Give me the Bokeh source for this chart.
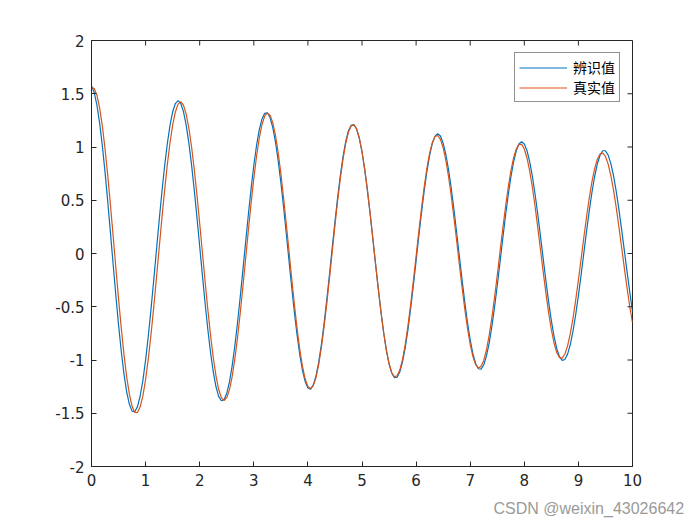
import math
from bokeh.plotting import figure
from bokeh.models import Range1d, FixedTicker, Title
from bokeh.embed import file_html
from bokeh.resources import INLINE

# ---- data ----
t = [0.00, 0.05, 0.10, 0.15, 0.20, 0.25, 0.30, 0.35, 0.40, 0.45,
     0.50, 0.55, 0.60, 0.65, 0.70, 0.75, 0.80, 0.85, 0.90, 0.95,
     1.00, 1.05, 1.10, 1.15, 1.20, 1.25, 1.30, 1.35, 1.40, 1.45,
     1.50, 1.55, 1.60, 1.65, 1.70, 1.75, 1.80, 1.85, 1.90, 1.95,
     2.00, 2.05, 2.10, 2.15, 2.20, 2.25, 2.30, 2.35, 2.40, 2.45,
     2.50, 2.55, 2.60, 2.65, 2.70, 2.75, 2.80, 2.85, 2.90, 2.95,
     3.00, 3.05, 3.10, 3.15, 3.20, 3.25, 3.30, 3.35, 3.40, 3.45,
     3.50, 3.55, 3.60, 3.65, 3.70, 3.75, 3.80, 3.85, 3.90, 3.95,
     4.00, 4.05, 4.10, 4.15, 4.20, 4.25, 4.30, 4.35, 4.40, 4.45,
     4.50, 4.55, 4.60, 4.65, 4.70, 4.75, 4.80, 4.85, 4.90, 4.95,
     5.00, 5.05, 5.10, 5.15, 5.20, 5.25, 5.30, 5.35, 5.40, 5.45,
     5.50, 5.55, 5.60, 5.65, 5.70, 5.75, 5.80, 5.85, 5.90, 5.95,
     6.00, 6.05, 6.10, 6.15, 6.20, 6.25, 6.30, 6.35, 6.40, 6.45,
     6.50, 6.55, 6.60, 6.65, 6.70, 6.75, 6.80, 6.85, 6.90, 6.95,
     7.00, 7.05, 7.10, 7.15, 7.20, 7.25, 7.30, 7.35, 7.40, 7.45,
     7.50, 7.55, 7.60, 7.65, 7.70, 7.75, 7.80, 7.85, 7.90, 7.95,
     8.00, 8.05, 8.10, 8.15, 8.20, 8.25, 8.30, 8.35, 8.40, 8.45,
     8.50, 8.55, 8.60, 8.65, 8.70, 8.75, 8.80, 8.85, 8.90, 8.95,
     9.00, 9.05, 9.10, 9.15, 9.20, 9.25, 9.30, 9.35, 9.40, 9.45,
     9.50, 9.55, 9.60, 9.65, 9.70, 9.75, 9.80, 9.85, 9.90, 9.95,
     10.00]

identified = [
    1.575, 1.512, 1.394, 1.225, 1.013, 0.764, 0.489, 0.196, -0.101, -0.394,
    -0.670, -0.918, -1.130, -1.299, -1.416, -1.480, -1.486, -1.438, -1.338, -1.191,
    -1.000, -0.775, -0.522, -0.251, 0.028, 0.306, 0.571, 0.814, 1.026, 1.200,
    1.329, 1.408, 1.435, 1.409, 1.332, 1.206, 1.036, 0.830, 0.593, 0.335,
    0.066, -0.205, -0.467, -0.711, -0.928, -1.109, -1.249, -1.341, -1.383, -1.373,
    -1.313, -1.206, -1.055, -0.866, -0.646, -0.404, -0.147, 0.113, 0.369, 0.609,
    0.826, 1.012, 1.158, 1.261, 1.316, 1.321, 1.277, 1.185, 1.049, 0.875,
    0.668, 0.437, 0.190, -0.064, -0.314, -0.550, -0.766, -0.951, -1.099, -1.204,
    -1.263, -1.273, -1.234, -1.149, -1.019, -0.852, -0.653, -0.429, -0.190, 0.056,
    0.298, 0.528, 0.735, 0.913, 1.054, 1.153, 1.203, 1.211, 1.169, 1.082,
    0.953, 0.787, 0.591, 0.373, 0.141, -0.096, -0.328, -0.546, -0.742, -0.908,
    -1.037, -1.124, -1.166, -1.162, -1.111, -1.016, -0.881, -0.712, -0.514, -0.297,
    -0.069, 0.162, 0.384, 0.591, 0.772, 0.922, 1.033, 1.102, 1.125, 1.103,
    1.036, 0.929, 0.785, 0.610, 0.410, 0.195, -0.027, -0.248, -0.457, -0.648,
    -0.811, -0.942, -1.033, -1.082, -1.086, -1.047, -0.964, -0.843, -0.687, -0.504,
    -0.300, -0.086, 0.132, 0.344, 0.540, 0.713, 0.856, 0.962, 1.028, 1.050,
    1.028, 0.965, 0.861, 0.723, 0.554, 0.364, 0.159, -0.051, -0.259, -0.454,
    -0.630, -0.778, -0.893, -0.969, -1.003, -0.995, -0.945, -0.855, -0.730, -0.575,
    -0.395, -0.200, 0.003, 0.205, 0.398, 0.573, 0.723, 0.841, 0.923, 0.965,
    0.965, 0.924, 0.844, 0.728, 0.581, 0.410, 0.222, 0.025, -0.172, -0.362,
    -0.545]

true_vals = [
    1.555, 1.550, 1.486, 1.367, 1.198, 0.984, 0.734, 0.457, 0.164, -0.134,
    -0.426, -0.700, -0.947, -1.157, -1.321, -1.435, -1.493, -1.493, -1.440, -1.336,
    -1.183, -0.989, -0.761, -0.506, -0.233, 0.046, 0.323, 0.586, 0.827, 1.035,
    1.205, 1.329, 1.403, 1.425, 1.393, 1.309, 1.176, 1.000, 0.786, 0.543,
    0.281, 0.009, -0.263, -0.524, -0.764, -0.974, -1.146, -1.275, -1.353, -1.380,
    -1.354, -1.278, -1.155, -0.989, -0.787, -0.556, -0.305, -0.043, 0.219, 0.471,
    0.705, 0.911, 1.080, 1.208, 1.289, 1.320, 1.299, 1.229, 1.111, 0.950,
    0.753, 0.526, 0.281, 0.025, -0.231, -0.477, -0.703, -0.900, -1.061, -1.179,
    -1.249, -1.270, -1.241, -1.164, -1.042, -0.880, -0.685, -0.464, -0.226, 0.019,
    0.263, 0.495, 0.707, 0.889, 1.036, 1.140, 1.198, 1.208, 1.170, 1.085,
    0.958, 0.793, 0.597, 0.378, 0.144, -0.094, -0.328, -0.547, -0.742, -0.908,
    -1.035, -1.120, -1.158, -1.148, -1.092, -0.992, -0.852, -0.677, -0.475, -0.255,
    -0.025, 0.205, 0.425, 0.627, 0.802, 0.942, 1.042, 1.098, 1.108, 1.072,
    0.993, 0.874, 0.721, 0.538, 0.334, 0.117, -0.104, -0.320, -0.522, -0.702,
    -0.853, -0.968, -1.043, -1.074, -1.061, -1.004, -0.906, -0.771, -0.604, -0.413,
    -0.205, 0.010, 0.224, 0.427, 0.612, 0.770, 0.894, 0.980, 1.024, 1.025,
    0.981, 0.897, 0.774, 0.620, 0.439, 0.241, 0.033, -0.175, -0.375, -0.558,
    -0.716, -0.841, -0.930, -0.977, -0.982, -0.944, -0.867, -0.753, -0.608, -0.437,
    -0.249, -0.050, 0.150, 0.342, 0.519, 0.673, 0.797, 0.885, 0.935, 0.943,
    0.911, 0.839, 0.732, 0.593, 0.428, 0.246, 0.054, -0.140, -0.327, -0.500,
    -0.650]

series_names = ["辨识值", "真实值"]
x_ticks = [0, 1, 2, 3, 4, 5, 6, 7, 8, 9, 10]
x_tick_labels = ["0", "1", "2", "3", "4", "5", "6", "7", "8", "9", "10"]
y_ticks = [-2, -1.5, -1, -0.5, 0, 0.5, 1, 1.5, 2]
y_tick_labels = ["-2", "-1.5", "-1", "-0.5", "0", "0.5", "1", "1.5", "2"]
x_lim = [0, 10]
y_lim = [-2, 2]
watermark = "CSDN @weixin_43026642"

# ---- figure ----
AX = "#262626"
p = figure(frame_width=541, frame_height=426,
           min_border_left=91, min_border_right=64,
           min_border_top=40, min_border_bottom=56,
           x_range=Range1d(*x_lim), y_range=Range1d(*y_lim),
           output_backend="svg", toolbar_location=None,
           background_fill_color="white", border_fill_color="white")
p.grid.visible = False
p.outline_line_color = AX
p.outline_line_width = 1

p.line(t, identified, line_color="#0072BD", line_width=1.2, legend_label=series_names[0])
p.line(t, true_vals, line_color="#D95319", line_width=1.2, legend_label=series_names[1])

def style_axis(ax, ticks, labels):
    ax.ticker = FixedTicker(ticks=ticks)
    ax.major_label_overrides = {tk: lb for tk, lb in zip(ticks, labels)}
    ax.axis_line_color = AX
    ax.major_tick_line_color = AX
    ax.major_tick_in = 5
    ax.major_tick_out = 0
    ax.minor_tick_line_color = None
    ax.major_label_text_font = "DejaVu Sans"
    ax.major_label_text_font_size = "15px"
    ax.major_label_text_color = AX
    ax.major_label_standoff = 7

style_axis(p.xaxis[0], x_ticks, x_tick_labels)
style_axis(p.yaxis[0], y_ticks, y_tick_labels)

# inward tick marks on the top and right edges of the box (MATLAB "box on")
p.ray(x=x_ticks, y=[y_lim[1]] * len(x_ticks), length=5, length_units="screen",
      angle=-math.pi / 2, line_color=AX, line_width=1)
p.ray(x=[x_lim[1]] * len(y_ticks), y=y_ticks, length=5, length_units="screen",
      angle=math.pi, line_color=AX, line_width=1)

lg = p.legend[0]
lg.location = "top_right"
lg.margin = 12
lg.border_line_color = AX
lg.border_line_width = 1
lg.background_fill_color = "white"
lg.background_fill_alpha = 1
lg.label_text_font = "Noto Sans CJK SC"
lg.label_text_font_size = "14px"
lg.label_text_line_height = 1.0
lg.label_text_color = "#000000"
lg.glyph_width = 48
lg.glyph_height = 17
lg.label_height = 17
lg.label_standoff = 6
lg.spacing = 0
lg.padding = 4

wm = Title(text=watermark, align="left", offset=402, vertical_align="top",
           standoff=22, text_font="Liberation Sans", text_font_size="16px",
           text_font_style="normal", text_color="#9a9a9a")
p.add_layout(wm, "below")

open("out.html", "w").write(file_html(p, INLINE))
